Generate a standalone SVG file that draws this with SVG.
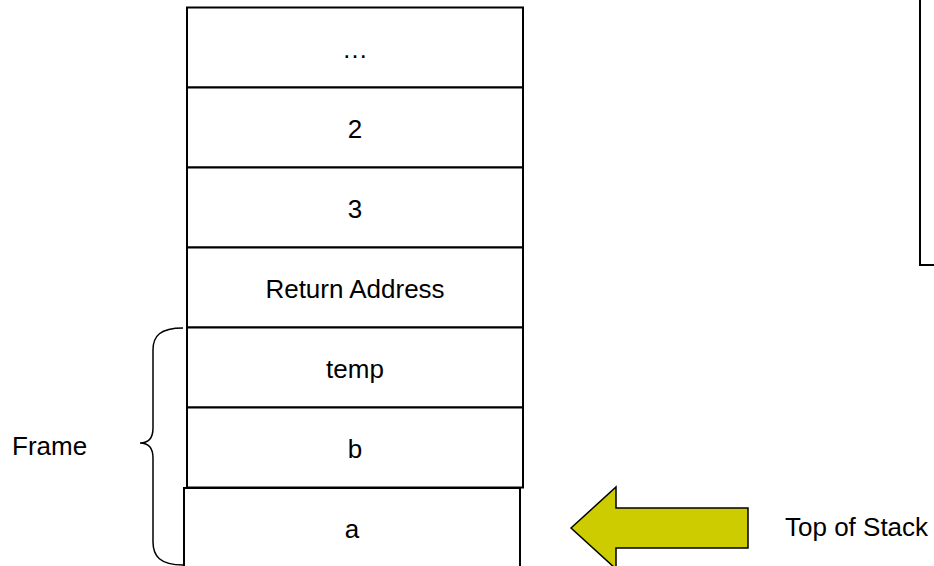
<svg xmlns="http://www.w3.org/2000/svg" width="934" height="566" viewBox="0 0 934 566">
<style>
.cell{fill:#fff;stroke:#000;stroke-width:2}
.t{font-family:"Liberation Sans",Arial,sans-serif;font-size:26px;fill:#000;text-anchor:middle}
.l{font-family:"Liberation Sans",Arial,sans-serif;font-size:26px;fill:#000}
</style>
<rect width="934" height="566" fill="#fff"/>
<g id="side-box"><path d="M920,-5 V265 H940" fill="none" stroke="#000" stroke-width="2"/></g>
<g id="cell-dots"><rect class="cell" x="187" y="7.5" width="336" height="80"/><text class="t" x="355" y="58">…</text></g>
<g id="cell-2"><rect class="cell" x="187" y="87.5" width="336" height="80"/><text class="t" x="355" y="138">2</text></g>
<g id="cell-3"><rect class="cell" x="187" y="167.5" width="336" height="80"/><text class="t" x="355" y="218">3</text></g>
<g id="cell-ret"><rect class="cell" x="187" y="247.5" width="336" height="80"/><text class="t" x="355" y="298">Return Address</text></g>
<g id="cell-temp"><rect class="cell" x="187" y="327.5" width="336" height="80"/><text class="t" x="355" y="378">temp</text></g>
<g id="cell-b"><rect class="cell" x="187" y="407.5" width="336" height="80"/><text class="t" x="355" y="458">b</text></g>
<g id="cell-a"><rect class="cell" x="184" y="488" width="336" height="90"/><text class="t" x="352" y="538">a</text></g>
<g id="frame"><path d="M183,328 C160,328 153,336 153,350 V428 C153,438 148,443 140,443 C148,443 153,448 153,458 V542 C153,556 160,565 183,565" fill="none" stroke="#000" stroke-width="1.5"/><text class="l" x="12" y="455">Frame</text></g>
<g id="top-arrow"><polygon points="571,528 616,487 616,508 748,508 748,548 616,548 616,569" fill="#CCCC00" stroke="#000" stroke-width="1.5"/><text class="l" x="785" y="536">Top of Stack</text></g>
</svg>
